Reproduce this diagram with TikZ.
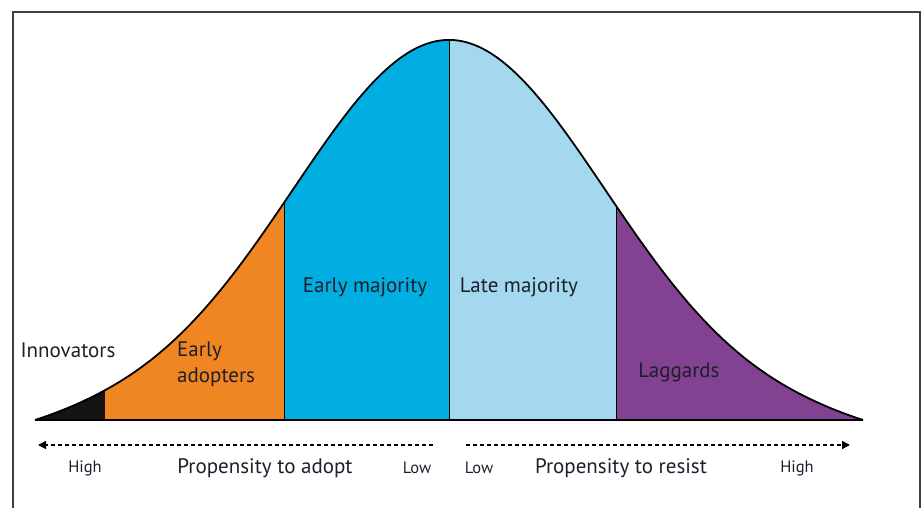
\documentclass[tikz,border=0pt]{standalone}
\usepackage{fontspec}
\setmainfont{PT Sans}
\usetikzlibrary{arrows.meta}

\definecolor{innovcol}{RGB}{20,20,20}
\definecolor{adoptcol}{RGB}{240,134,34}
\definecolor{earlycol}{RGB}{0,174,225}
\definecolor{latecol}{RGB}{164,216,239}
\definecolor{lagcol}{RGB}{131,65,146}
\definecolor{inkcol}{RGB}{30,30,45}

\tikzset{lbl/.style = {color = inkcol,
                       inner sep = 0pt,
                       align = left,
                       font = \fontsize{21}{26}\selectfont},
         axislbl/.style = {color = inkcol,
                           inner sep = 0pt,
                           font = \fontsize{21}{24}\selectfont},
         endlbl/.style = {color = inkcol,
                          inner sep = 0pt,
                          font = \fontsize{16.5}{19}\selectfont},
         propline/.style = {draw = black,
                            line width = 1.6pt,
                            dash pattern = on 4pt off 3pt,
                            -{Triangle[length=8pt,width=8pt]}},
         divider/.style = {draw = black,
                           line width = 1pt}}

\begin{document}
\begin{tikzpicture}[x=1pt,y=-1pt,
  declare function = {bell(\x) = 380*exp(-0.5*((\x-449)/156)^2)*(1-(abs(\x-449)/414)^12);}]
		\useasboundingbox (0,0) rectangle (922,508);
		% frame
		\draw[color = black!75, line width = 1.6pt] (13,508) -- (13,12) -- (920,12) -- (920,508);
		% areas under the curve
		\fill[innovcol] (35,420) -- plot[domain=35:105, samples=30] (\x,{420-bell(\x)}) -- (105,420) -- cycle;
		\fill[adoptcol] (105,420) -- plot[domain=105:284, samples=60] (\x,{420-bell(\x)}) -- (284,420) -- cycle;
		\fill[earlycol] (284,420) -- plot[domain=284:449, samples=60] (\x,{420-bell(\x)}) -- (449,420) -- cycle;
		\fill[latecol] (449,420) -- plot[domain=449:616, samples=60] (\x,{420-bell(\x)}) -- (616,420) -- cycle;
		\fill[lagcol] (616,420) -- plot[domain=616:863, samples=80] (\x,{420-bell(\x)}) -- (863,420) -- cycle;
		% outline
		\draw[line width = 1.8pt, line join = round] plot[domain=35:863, samples=250] (\x,{420-bell(\x)});
		\draw[line width = 1.8pt] (35,420) -- (863,420);
		\draw[divider] (284,420) -- (284,{420-bell(284)});
		\draw[divider] (449,420) -- (449,{420-bell(449)});
		\draw[divider] (616,420) -- (616,{420-bell(616)});
		% labels
		\node[lbl] (innov) at (68,350) {Innovators};
		\node[lbl, anchor = west] (adopt) at (177,364) {Early\\adopters};
		\node[lbl] (early) at (365,287) {Early majority};
		\node[lbl] (late) at (519,287) {Late majority};
		\node[lbl] (lag) at (679,372) {Laggards};
		% propensity axes
		\coordinate (adoptlow) at (433,445);
		\coordinate (adopthigh) at (38,445);
		\coordinate (resistlow) at (466,445);
		\coordinate (resisthigh) at (850,445);
		\draw[propline] (adoptlow) -- (adopthigh);
		\draw[propline] (resistlow) -- (resisthigh);
		\node[endlbl] (highl) at (85,468) {High};
		\node[axislbl] (adoptlbl) at (265,468) {Propensity to adopt};
		\node[endlbl] (lowl) at (417,468) {Low};
		\node[endlbl] (lowr) at (479,468) {Low};
		\node[axislbl] (resistlbl) at (621,468) {Propensity to resist};
		\node[endlbl] (highr) at (797,468) {High};
	\end{tikzpicture}
\end{document}
